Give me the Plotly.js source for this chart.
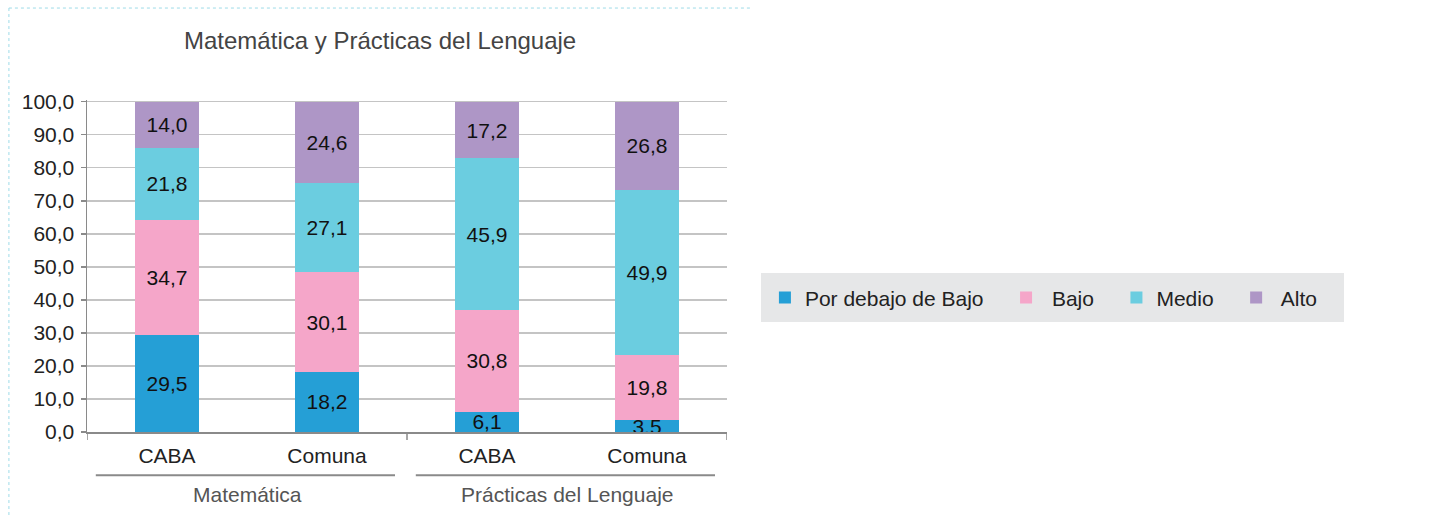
<!DOCTYPE html>
<html>
<head>
<meta charset="utf-8">
<script src="https://cdn.plot.ly/plotly-3.0.1.min.js"></script>
<style>html,body{margin:0;padding:0;background:#fff;}#chart{width:1449px;height:515px;}</style>
</head>
<body>
<div id="chart"></div>
<script>
const categories = ['CABA', 'Comuna', 'CABA', 'Comuna'];
const groups = ['Matemática', 'Prácticas del Lenguaje'];
const groupOfCategory = [0, 0, 1, 1];
const seriesNames = ['Por debajo de Bajo   ', ' Bajo   ', 'Medio   ', ' Alto   '];
const porDebajoDeBajo = [29.5, 18.2, 6.1, 3.5];
const bajo = [34.7, 30.1, 30.8, 19.8];
const medio = [21.8, 27.1, 45.9, 49.9];
const alto = [14.0, 24.6, 17.2, 26.8];
const yTicks = [0, 10, 20, 30, 40, 50, 60, 70, 80, 90, 100];

const FONT = 'Liberation Sans, Arial, sans-serif';
const colors = ['#259fd6', '#f5a6c9', '#6bcde0', '#ae96c6'];
const seriesValues = [porDebajoDeBajo, bajo, medio, alto];
const xPos = categories.map((c, i) => i);
const fmt = v => v.toFixed(1).replace('.', ',');

const traces = seriesValues.map((vals, k) => ({
  type: 'bar',
  name: seriesNames[k],
  x: xPos,
  y: vals,
  width: 0.4,
  marker: {color: colors[k], line: {width: 0}},
  text: vals.map(fmt),
  texttemplate: '%{text}',
  textposition: 'inside',
  insidetextanchor: 'middle',
  constraintext: 'none',
  textfont: {family: FONT, size: 21, color: '#111'},
  hoverinfo: 'skip'
}));

const shapes = [];
const annotations = [];
groups.forEach((g, gi) => {
  const idx = xPos.filter(i => groupOfCategory[i] === gi);
  const lo = Math.min(...idx), hi = Math.max(...idx);
  shapes.push({type: 'line', xref: 'x', yref: 'paper', x0: lo - 0.445, x1: hi + 0.425, y0: -0.13, y1: -0.13,
    line: {color: '#8a8a8a', width: 2}});
  annotations.push({xref: 'x', yref: 'paper', x: (lo + hi) / 2, y: -0.187, yanchor: 'middle', showarrow: false,
    text: g, font: {family: FONT, size: 21, color: '#555'}});
});
[-0.5, 1.5, 3.5].forEach(b => {
  shapes.push({type: 'line', xref: 'x', yref: 'paper', x0: b, x1: b, y0: 0, y1: -0.024,
    line: {color: '#8a8a8a', width: 1.5}});
});
shapes.push({type: 'line', xref: 'paper', yref: 'paper', x0: -0.122, x1: 1.039, y0: 1.277, y1: 1.277,
  line: {color: '#9edbe8', width: 1, dash: 'dot'}});
shapes.push({type: 'line', xref: 'paper', yref: 'paper', x0: -0.122, x1: -0.122, y0: 1.277, y1: -0.26,
  line: {color: '#9edbe8', width: 1, dash: 'dot'}});

const layout = {
  width: 1449, height: 515,
  margin: {l: 87, r: 722, t: 100, b: 83, pad: 0},
  paper_bgcolor: '#fff', plot_bgcolor: '#fff',
  separators: ', ',
  barmode: 'stack',
  font: {family: FONT, size: 20, color: '#222'},
  title: {text: 'Matemática y Prácticas del Lenguaje', xref: 'paper', x: 0.458, xanchor: 'center',
    yref: 'container', y: 0.922, yanchor: 'middle',
    font: {family: FONT, size: 24, color: '#444'}},
  xaxis: {range: [-0.5, 3.5], tickvals: xPos, ticktext: categories, ticks: '', showgrid: false,
    zeroline: false, showline: true, linecolor: '#8a8a8a', linewidth: 1.5,
    tickfont: {size: 21, color: '#222'}, ticklabelstandoff: 4, fixedrange: true},
  yaxis: {range: [0, 100.5], tickvals: yTicks, tickformat: '.1f', showgrid: true, gridcolor: '#c4c4c4', gridwidth: 1.5,
    zeroline: false, showline: true, linecolor: '#8a8a8a', linewidth: 1.5,
    ticks: 'outside', ticklen: 5, tickwidth: 1.5, tickcolor: '#8a8a8a',
    tickfont: {size: 21, color: '#222'}, ticklabelstandoff: 2, fixedrange: true},
  legend: {orientation: 'h', x: 1.053, xanchor: 'left', y: 0.478, yanchor: 'top',
    bgcolor: '#e6e7e8', bordercolor: '#e6e7e8', borderwidth: 4, font: {size: 21, color: '#222'},
    itemwidth: 30, traceorder: 'normal'},
  shapes: shapes,
  annotations: annotations,
  showlegend: true
};

Plotly.newPlot('chart', traces, layout, {displayModeBar: false, staticPlot: true});
</script>
</body>
</html>
